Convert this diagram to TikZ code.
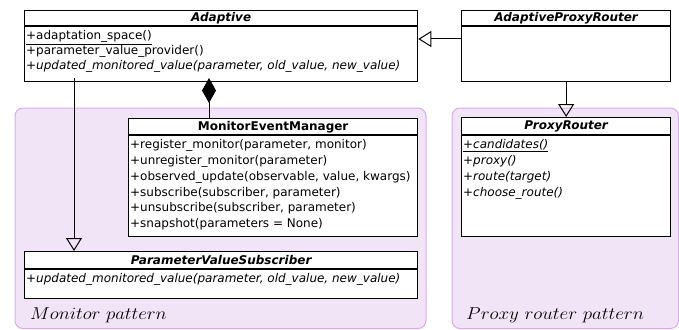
\documentclass[tikz,border=0pt]{standalone}
\usepackage{fontspec}
\newfontfamily\umlfont{DejaVu Sans}
\usetikzlibrary{arrows.meta, shapes.multipart}

\definecolor{grpfill}{RGB}{242,228,247}
\definecolor{grpline}{RGB}{217,170,233}

\newcommand{\clshead}[3]{\parbox[c][#2][c]{#1}{\centering\bfseries #3}}
\newcommand{\clsbody}[3]{\parbox[c][#2][t]{#1}{\raggedright\rule{0pt}{13pt}#3}}

\begin{document}
\begin{tikzpicture}[x=1pt, y=-1pt, >=latex,
  umlclass/.style={draw, line width=1.3pt, fill=white, rectangle split, rectangle split parts=2,
    inner xsep=1.5pt, inner ysep=0pt, anchor=north west,
    font=\umlfont\fontsize{12}{15.8}\selectfont},
  group/.style={draw=grpline, fill=grpfill, line width=1pt, rounded corners=8pt},
  grouplabel/.style={anchor=base west, inner sep=0pt, font=\fontsize{17}{20}\selectfont},
  inherit/.style={-{Triangle[open, length=13pt, width=16pt]}, line width=1pt},
  compose/.style={{Diamond[length=25pt, width=14pt]}-, line width=1pt}]

\useasboundingbox (0,0) rectangle (679,329);

% package groups
\draw[group] (15,108) rectangle (426,328.5);
\draw[group] (452,108) rectangle (678.5,328.5);
\node[grouplabel] (monlabel) at (30,319) {\scalebox{1.09}[1.0]{$Monitor\ pattern$}};
\node[grouplabel] (prxlabel) at (466,319) {\scalebox{1.1}[1.0]{$Proxy\ router\ pattern$}};

% classes
\node[umlclass] (adaptive) at (24,10)
  {\clshead{390pt}{14pt}{\itshape Adaptive}
   \nodepart{two}\clsbody{390pt}{54pt}{\fontsize{12}{15}\selectfont
     \underline{+adaptation\_space()}\\
     +parameter\_value\_provider()\\
     \textit{+updated\_monitored\_value(parameter, old\_value, new\_value)}}};

\node[umlclass] (apr) at (461,10)
  {\clshead{206pt}{14pt}{\itshape AdaptiveProxyRouter}
   \nodepart{two}\clsbody{206pt}{54pt}{}};

\node[umlclass] (mem) at (128,118)
  {\clshead{286pt}{15pt}{MonitorEventManager}
   \nodepart{two}\clsbody{286pt}{100pt}{+register\_monitor(parameter, monitor)\\
     +unregister\_monitor(parameter)\\
     +observed\_update(observable, value, kwargs)\\
     +subscribe(subscriber, parameter)\\
     +unsubscribe(subscriber, parameter)\\
     +snapshot(parameters = None)}};

\node[umlclass] (pvs) at (24,251)
  {\clshead{390pt}{16pt}{\itshape ParameterValueSubscriber}
   \nodepart{two}\clsbody{390pt}{28pt}{\textit{+updated\_monitored\_value(parameter, old\_value, new\_value)}}};

\node[umlclass] (pr) at (461,117)
  {\clshead{206pt}{16pt}{\itshape ProxyRouter}
   \nodepart{two}\clsbody{206pt}{100pt}{\itshape\underline{+candidates()}\\
     +proxy()\\
     +route(target)\\
     +choose\_route()}};

% relations
\coordinate (cmp) at (209,78);
\coordinate (gen) at (74,78);
\coordinate (ext) at (461,39);

\draw[compose] (cmp) -- (cmp |- mem.north);
\draw[inherit] (gen) -- (gen |- pvs.north);
\draw[inherit] (ext) -- (ext -| adaptive.east);
\draw[inherit] (apr.south) -- (pr.north);

\end{tikzpicture}
\end{document}
